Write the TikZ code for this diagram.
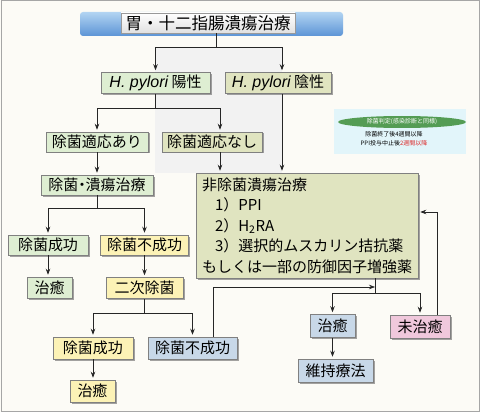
\documentclass[tikz,border=0pt]{standalone}
\usepackage{fontspec}
\setmainfont{Noto Sans CJK JP}
\newfontfamily\pyfont{Liberation Sans}
\usetikzlibrary{positioning,arrows.meta,shadows,shapes.geometric}

\definecolor{pagebg}{RGB}{252,251,246}
\definecolor{boxgreen}{RGB}{222,238,210}
\definecolor{boxolive}{RGB}{224,228,192}
\definecolor{boxyellow}{RGB}{252,242,182}
\definecolor{boxblue}{RGB}{200,216,232}
\definecolor{boxpink}{RGB}{240,200,220}
\definecolor{bannertop}{RGB}{178,212,242}
\definecolor{bannerbot}{RGB}{92,148,214}
\definecolor{legendbg}{RGB}{226,245,250}
\definecolor{legendgreen}{RGB}{84,156,84}
\definecolor{legendred}{RGB}{220,40,40}

\begin{document}
\begin{tikzpicture}[x=1pt,y=-1pt,
    box/.style={draw=black!50, line width=0.5pt, inner sep=0pt, minimum height=21pt,
        font=\fontsize{15}{18}\selectfont,
        drop shadow={shadow xshift=1.5pt,shadow yshift=-1.5pt,fill=black!60,opacity=0.6}},
    grn/.style={box, fill=boxgreen},
    olv/.style={box, fill=boxolive},
    ylw/.style={box, fill=boxyellow},
    blu/.style={box, fill=boxblue},
    pnk/.style={box, fill=boxpink},
    ln/.style={line width=0.7pt, black!85},
    arr/.style={ln, -{Stealth[length=6pt,width=4.5pt]}, shorten >=2pt}]

    % Fundo
    \fill[pagebg] (0,0) rectangle (480,412);
    \useasboundingbox (0,0) rectangle (480,412);
    \draw[black!35, line width=1pt] (1,1) rectangle (479,411);
    \fill[black!5] (155,47) rectangle (282,173);

    % Título
    \shade[top color=bannertop, bottom color=bannerbot, rounded corners=3pt] (80,12) rectangle (343,36);
    \node[draw=black!40, top color=white, bottom color=black!12, minimum width=174pt, minimum height=20pt,
        inner sep=0pt, font=\fontsize{16.5}{18}\selectfont] (title) at (208,23) {胃・十二指腸潰瘍治療};

    % Caixas
    \node[grn, minimum width=109pt] (pos) at (155.5,83) {{\pyfont\itshape\fontsize{16}{18}\selectfont H. pylori} 陽性};
    \node[olv, minimum width=106pt] (neg) at (278,83) {{\pyfont\itshape\fontsize{16}{18}\selectfont H. pylori} 陰性};
    \node[grn, minimum width=102pt, minimum height=20pt] (yes) at (97,142) {除菌適応あり};
    \node[olv, minimum width=100pt, minimum height=20pt] (no) at (212,142) {除菌適応なし};
    \node[olv, minimum width=222pt, minimum height=105pt, align=left,
        font=\fontsize{15}{20.5}\selectfont] (nonera) at (307,225.5)
        {非除菌潰瘍治療\\\hspace*{13pt}1）PPI\\\hspace*{13pt}2）H\textsubscript{2}RA\\\hspace*{13pt}3）選択的ムスカリン拮抗薬\\もしくは一部の防御因子増強薬};
    \node[grn, minimum width=112pt, minimum height=20pt] (erad) at (97,185) {除菌\kern-4pt・\kern-4pt潰瘍治療};
    \node[grn, minimum width=80pt, minimum height=20pt] (ok1) at (48,245) {除菌成功};
    \node[ylw, minimum width=88pt, minimum height=20pt] (ng1) at (144.5,245) {除菌不成功};
    \node[grn, minimum width=45pt] (cure1) at (49.5,287.5) {治癒};
    \node[ylw, minimum width=77pt] (second) at (144.5,288) {二次除菌};
    \node[ylw, minimum width=80pt, minimum height=22pt] (ok2) at (93,348) {除菌成功};
    \node[blu, minimum width=89pt, minimum height=22pt] (ng2) at (192.5,348) {除菌不成功};
    \node[ylw, minimum width=45pt, minimum height=22pt] (cure2) at (92.5,391) {治癒};
    \node[blu, minimum width=45pt, minimum height=23pt] (cure3) at (332.5,326) {治癒};
    \node[pnk, minimum width=60pt, minimum height=23pt] (uncured) at (420,326.5) {未治癒};
    \node[blu, minimum width=75pt, minimum height=23pt] (maint) at (335.5,370.5) {維持療法};

    % Legenda
    \fill[legendbg] (334,109) rectangle (466,154);
    \node[ellipse, fill=legendgreen, minimum width=128pt, minimum height=12pt, inner sep=0pt,
        text=white, font=\fontsize{6}{7}\selectfont] (judge) at (402,122) {除菌判定(感染診断と同様)};
    \node[align=center, inner sep=0pt, font=\fontsize{6}{8.5}\selectfont] (timing) at (394,138.5)
        {除菌終了後4週間以降\\PPI投与中止後\textcolor{legendred}{2週間以降}};

    % Setas
    \coordinate (j1) at (216,47);
    \coordinate (j2) at (155.5,108);
    \coordinate (j3) at (97,208);
    \coordinate (j4) at (144.5,313);
    \coordinate (j5) at (375,287);
    \coordinate (j6) at (375,293);
    \draw[ln] (title.south -| j1) -- (j1);
    \draw[arr] (j1) -| (pos.north);
    \draw[arr] (j1) -| ([xshift=4pt]neg.north);
    \draw[arr] ([xshift=4pt]neg.south) -- ([xshift=4pt]neg.south |- nonera.north);
    \draw[ln] (pos.south) -- (j2);
    \draw[arr] (j2) -| (yes.north);
    \draw[arr] (j2) -| ([xshift=8pt]no.north);
    \draw[arr] ([xshift=8pt]no.south) -- ([xshift=8pt]no.south |- nonera.north);
    \draw[arr] (yes.south) -- (erad.north);
    \draw[ln] (erad.south) -- (j3);
    \draw[arr] (j3) -| (ok1.north);
    \draw[arr] (j3) -| (ng1.north);
    \draw[arr] (ok1.south) -- (ok1.south |- cure1.north);
    \draw[arr] (ng1.south) -- (second.north);
    \draw[ln] (second.south) -- (j4);
    \draw[arr] (j4) -| (ok2.north);
    \draw[arr] (j4) -| (ng2.north);
    \draw[arr] (ok2.south) -- (ok2.south |- cure2.north);
    \draw[arr, shorten >=0pt] ([xshift=20.5pt]ng2.north) |- (j5);
    \draw[ln] (nonera.south -| j6) -- (j6);
    \draw[arr] (j6) -| (cure3.north);
    \draw[arr] (j6) -| (uncured.north);
    \draw[arr] (cure3.south) -- (cure3.south |- maint.north);
    \draw[arr] ([xshift=17pt]uncured.north) |- ([yshift=13.5pt]nonera.east);
\end{tikzpicture}
\end{document}
